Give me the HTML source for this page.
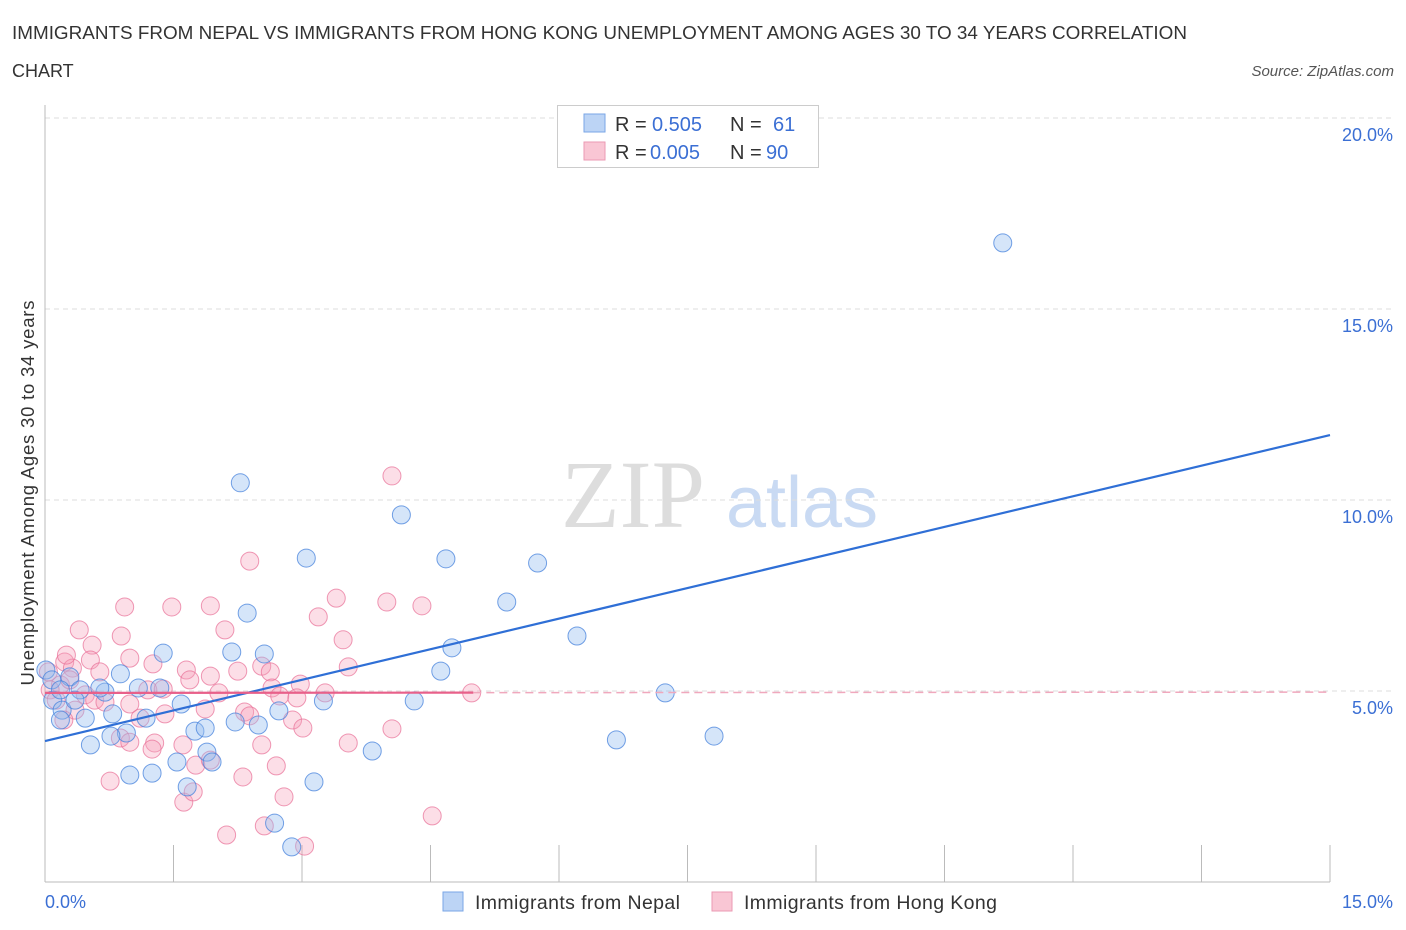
<!DOCTYPE html>
<html><head><meta charset="utf-8"><style>
body{margin:0;background:#fff;font-family:"Liberation Sans",sans-serif;}
#wrap{position:relative;width:1406px;height:930px;overflow:hidden;}
</style></head><body>
<div id="wrap">
<svg id="svg" width="1406" height="930" xmlns="http://www.w3.org/2000/svg" font-family="Liberation Sans, sans-serif">
<text x="12" y="39" font-size="18" fill="#333" textLength="1175" lengthAdjust="spacingAndGlyphs">IMMIGRANTS FROM NEPAL VS IMMIGRANTS FROM HONG KONG UNEMPLOYMENT AMONG AGES 30 TO 34 YEARS CORRELATION</text>
<text x="12" y="77" font-size="18" fill="#333">CHART</text>
<text x="1394" y="76" font-size="15" font-style="italic" fill="#555" text-anchor="end">Source: ZipAtlas.com</text>
<text x="633" y="527" font-size="96" font-family="Liberation Serif, serif" fill="#ddd" text-anchor="middle">ZIP</text>
<text x="802" y="527" font-size="72" fill="#c9daf3" text-anchor="middle">atlas</text>
<text transform="translate(34,493) rotate(-90)" font-size="18.5" fill="#333" text-anchor="middle" textLength="385">Unemployment Among Ages 30 to 34 years</text>
<g id="grid"></g>
<g id="pts"></g>
<g id="lines"></g>
<g>
<rect x="557.5" y="105.5" width="261" height="62" fill="#fff" stroke="#ccc"/>
<rect x="584" y="114" width="21" height="18" fill="#bcd4f5" stroke="#7aa6e6"/>
<rect x="584" y="142" width="21" height="18" fill="#f9c6d4" stroke="#eb9ab3"/>
<text x="615" y="131" font-size="20" fill="#333">R = <tspan x="652" fill="#3b6fd4">0.505</tspan><tspan x="730">N = </tspan><tspan x="773" fill="#3b6fd4">61</tspan></text>
<text x="615" y="159" font-size="20" fill="#333">R = <tspan x="650" fill="#3b6fd4">0.005</tspan><tspan x="730">N = </tspan><tspan x="766" fill="#3b6fd4">90</tspan></text>
</g>
<g>
<rect x="443" y="892" width="20" height="19" fill="#bcd4f5" stroke="#7aa6e6"/>
<text x="475" y="909" font-size="19.5" fill="#333" textLength="205">Immigrants from Nepal</text>
<rect x="712" y="892" width="20" height="19" fill="#f9c6d4" stroke="#eb9ab3"/>
<text x="744" y="909" font-size="19.5" fill="#333" textLength="253">Immigrants from Hong Kong</text>
</g>
</svg>
</div>
<script>
const xTicks=[0,1.5,3,4.5,6,7.5,9,10.5,12,13.5,15];
const yTicks=[5,10,15,20];
const yTickLabels=["5.0%","10.0%","15.0%","20.0%"];
const nepalX=[11.18,2.28,4.16,3.05,4.68,5.75,5.39,2.36,6.21,4.75,1.38,2.18,2.56,4.62,0.88,7.24,1.09,1.34,0.70,3.25,4.31,1.59,2.73,0.79,1.18,0.09,0.20,0.47,0.18,0.95,1.75,2.22,2.49,1.87,0.53,0.77,1.89,3.82,6.67,7.81,1.54,1.95,0.99,1.25,3.14,1.66,2.68,2.88,0.01,0.08,0.29,0.41,0.64,0.35,0.18];
const nepalY=[16.73,10.45,9.61,8.48,8.46,8.35,7.33,7.04,6.44,6.13,5.99,6.02,5.97,5.52,5.45,4.95,5.08,5.08,4.97,4.74,4.74,4.66,4.48,4.40,4.29,4.76,4.50,4.29,4.24,3.90,3.95,4.19,4.11,4.03,3.59,3.82,3.40,3.43,3.72,3.82,3.14,3.14,2.80,2.85,2.62,2.49,1.54,0.92,5.55,5.29,5.37,5.03,5.08,4.76,5.03];
const hkX=[4.05,2.39,3.40,3.99,4.40,0.93,1.93,1.48,2.10,0.40,3.19,0.89,0.55,0.53,3.48,0.99,1.26,1.65,1.69,0.64,1.93,2.25,2.53,2.63,3.54,2.98,3.27,2.65,2.74,2.94,2.03,4.98,0.23,0.32,0.18,0.06,0.47,0.29,0.58,0.99,1.20,1.38,1.87,1.40,1.11,2.33,2.39,2.89,3.01,1.61,1.28,3.54,4.05,0.88,0.99,1.25,2.53,0.76,1.76,1.93,2.31,2.70,2.79,1.62,1.73,2.12,2.56,3.03,4.52,0.70,0.35,0.22,0.13,0.04,0.25];
const hkY=[10.63,8.40,7.43,7.33,7.23,7.20,7.23,7.20,6.60,6.60,6.94,6.44,6.20,5.81,6.34,5.86,5.71,5.55,5.29,5.50,5.39,5.52,5.65,5.50,5.63,5.18,4.95,5.08,4.87,4.82,4.95,4.95,5.76,5.60,5.16,5.03,4.90,5.29,4.76,4.66,5.03,5.05,4.53,4.40,4.29,4.45,4.35,4.24,4.03,3.59,3.64,3.64,4.01,3.77,3.66,3.48,3.59,2.64,3.06,3.19,2.75,3.04,2.23,2.09,2.36,1.23,1.47,0.94,1.73,4.71,4.50,4.24,4.76,5.50,5.94];
const nepalTrend=[3.69,11.70];
const hkTrend=[4.95,4.97];
const X0=45,X1=1330,Y0=882,PPY=38.2;
const sx=v=>X0+(v/15)*(X1-X0);
const sy=v=>Y0-v*PPY;
const NS="http://www.w3.org/2000/svg";
function mk(t,a,p){const e=document.createElementNS(NS,t);for(const k in a)e.setAttribute(k,a[k]);p.appendChild(e);return e;}
const grid=document.getElementById('grid');
yTicks.forEach((v,i)=>{
 const l=mk('line',{x1:X0,x2:1395,y1:sy(v),y2:sy(v),stroke:'#ddd','stroke-dasharray':'5,4'},grid);
 
 
 const t=mk('text',{x:1393,y:sy(v)+23,'font-size':18,fill:'#3b6fd4','text-anchor':'end'},grid);
 t.textContent=yTickLabels[i];
 
 
});
const ax=mk('line',{x1:X0,x2:X1,y1:Y0,y2:Y0,stroke:'#bbb'},grid);


const ay=mk('line',{x1:X0,x2:X0,y1:105,y2:Y0,stroke:'#bbb'},grid);


xTicks.forEach(v=>{
 const t=mk('line',{x1:sx(v),x2:sx(v),y1:Y0,y2:Y0-37,stroke:'#bbb'},grid);
 
 
});
const xl=mk('text',{x:45,y:908,'font-size':18,fill:'#3b6fd4'},grid);xl.textContent='0.0%';


const xr=mk('text',{x:1393,y:908,'font-size':18,fill:'#3b6fd4','text-anchor':'end'},grid);xr.textContent='15.0%';


const pts=document.getElementById('pts');
hkX.forEach((x,i)=>{
 const c=mk('circle',{cx:sx(x),cy:sy(hkY[i]),r:9,fill:'rgba(245,160,185,0.35)',stroke:'rgba(232,110,150,0.7)','stroke-width':1},pts);
 
 
});
nepalX.forEach((x,i)=>{
 const c=mk('circle',{cx:sx(x),cy:sy(nepalY[i]),r:9,fill:'rgba(150,190,240,0.4)',stroke:'rgba(70,130,220,0.75)','stroke-width':1},pts);
 
 
});
const lines=document.getElementById('lines');
const bl=mk('line',{x1:sx(0),y1:sy(nepalTrend[0]),x2:sx(15),y2:sy(nepalTrend[1]),stroke:'#2f6fd6','stroke-width':2.2},lines);


const hm=hkTrend[0]+(hkTrend[1]-hkTrend[0])*(5/15);
const p1=mk('line',{x1:sx(0),y1:sy(hkTrend[0]),x2:sx(5),y2:sy(hm),stroke:'#e8608a','stroke-width':2.2},lines);


const p2=mk('line',{x1:sx(5),y1:sy(hm),x2:sx(15),y2:sy(hkTrend[1]),stroke:'#f0a8bd','stroke-width':1.5,'stroke-dasharray':'8,5'},lines);


</script>
</body></html>
